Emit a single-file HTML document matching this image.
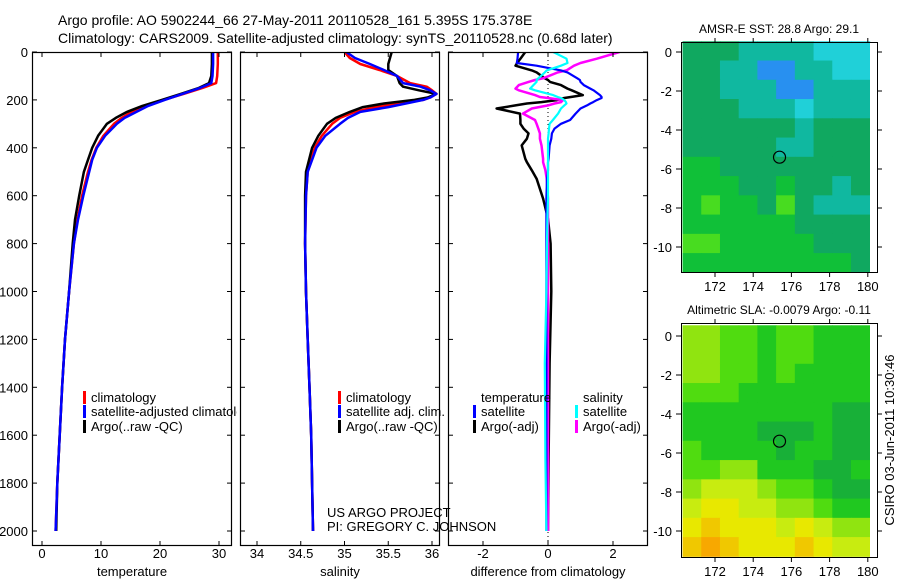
<!DOCTYPE html>
<html><head><meta charset="utf-8"><style>
body{margin:0;background:#fff;}
svg{display:block;font-family:"Liberation Sans",sans-serif;}
text{fill:#000;}
</style></head><body>
<svg id="c" width="900" height="580" viewBox="0 0 900 580">
<text x="58" y="25" font-size="14">Argo profile: AO 5902244_66 27-May-2011 20110528_161 5.395S 175.378E</text>
<text x="58" y="43" font-size="14">Climatology: CARS2009. Satellite-adjusted climatology: synTS_20110528.nc (0.68d later)</text>
</svg>
<script>
// ---- data ----
const depthTicks=[0,200,400,600,800,1000,1200,1400,1600,1800,2000];
const tempTicks=[0,10,20,30];
const salTicks=[34,34.5,35,35.5,36];
const salTickLabels=["34","34.5","35","35.5","36"];
const diffTicks=[-2,0,2];
const tDepth=[0,50,100,130,150,175,200,225,250,275,300,350,400,450,500,600,700,800,1000,1200,1400,1600,1800,2000];
const tClim=[29.8,29.8,29.7,29.5,27.2,24,20.6,17.5,15.2,13.5,12.2,10.4,9.2,8.4,7.8,6.8,6.0,5.4,4.6,3.9,3.4,3.0,2.6,2.3];
const tSat =[29.0,29.0,28.9,28.7,26.8,23.8,20.8,18,16,14,12.7,10.7,9.3,8.5,8.0,7.0,6.1,5.4,4.6,3.9,3.4,3.0,2.6,2.3];
const tArgo=[28.8,28.8,28.7,28.3,26.6,23.5,20.3,17,14.4,12.5,11.0,9.5,8.5,7.8,7.1,6.3,5.6,5.2,4.6,3.9,3.4,3.0,2.6,2.4];
const sDepth=[0,25,50,75,100,130,145,160,175,190,200,215,230,250,275,300,350,400,500,600,800,1000,1200,1400,1600,1800,2000];
const sClim=[35.0,35.06,35.18,35.4,35.6,35.75,35.94,36.0,36.05,35.98,35.9,35.6,35.35,35.12,34.95,34.86,34.74,34.66,34.58,34.56,34.55,34.56,34.58,34.6,34.62,34.63,34.64];
const sSat =[35.02,35.12,35.29,35.45,35.6,35.67,35.87,35.98,36.05,35.98,35.9,35.7,35.5,35.18,35.04,34.95,34.78,34.68,34.58,34.56,34.55,34.56,34.58,34.6,34.62,34.63,34.64];
const sArgo=[35.54,35.52,35.5,35.5,35.6,35.63,35.67,35.85,36.05,35.95,35.8,35.45,35.21,35.06,34.9,34.8,34.7,34.63,34.56,34.55,34.55,34.56,34.58,34.6,34.62,34.63,34.64];
const dDepth=[0,28,46,57,77,85,110,117,125,138,153,160,180,188,192,201,209,215,223,236,257,284,300,320,340,362,390,446,460,494,529,612,696,800,1000,1300,1700,2000];
const dTsat=[-0.92,-0.94,-0.96,-0.35,0.4,0.6,0.9,0.98,1.0,1.1,1.3,1.4,1.6,1.65,1.65,1.5,1.39,1.3,1.2,1.0,0.85,0.68,0.4,0.2,0.12,0.1,0.05,0.02,0.0,0.0,-0.03,-0.05,-0.05,-0.05,-0.05,-0.05,-0.05,-0.05];
const dTargo=[-0.7,-0.85,-0.95,-1.0,-0.5,-0.35,-0.1,0.0,0.06,0.4,0.6,0.73,1.07,0.7,0.5,0.27,-0.2,-0.65,-1.0,-1.58,-0.86,-0.85,-0.85,-0.75,-0.6,-0.65,-0.81,-0.7,-0.65,-0.5,-0.35,-0.15,0.0,0.08,0.1,0.05,0.02,0.0];
const dSsat=[0.16,0.57,0.6,0.4,-0.04,-0.1,-0.3,-0.35,-0.35,-0.45,-0.55,-0.4,0.16,0.3,0.4,0.5,0.55,0.57,0.5,0.4,0.31,0.15,0.05,0.03,0.02,0.0,0.0,0.0,0.0,0.0,0.0,0.0,-0.02,-0.03,-0.05,-0.1,-0.08,-0.05];
const dSargo=[2.2,1.5,1.0,0.8,0.57,0.3,-0.15,-0.4,-0.6,-0.9,-1.0,-0.9,-0.4,-0.25,0.0,0.46,0.4,0.2,0.0,-0.5,-0.77,-0.4,-0.35,-0.3,-0.25,-0.25,-0.2,-0.15,-0.15,-0.08,-0.04,0.0,0.0,0.0,0.0,0.0,0.0,0.0];
const lonTicks=[172,174,176,178,180];
const latTicks=[0,-2,-4,-6,-8,-10];
const sstGrid=[
[4,4,4,3,3,3,3,2,2,2],[4,4,3,3,1,1,3,3,2,2],[4,4,3,3,3,1,1,3,3,3],[4,4,4,3,3,3,2,3,3,3],
[4,4,4,4,4,4,3,4,4,4],[4,4,4,4,4,3,3,4,4,4],[5,5,4,4,4,4,4,4,4,4],[5,5,5,4,4,5,4,4,3,4],
[5,6,5,5,4,6,4,3,3,3],[5,5,5,5,5,5,4,4,4,4],[6,6,5,5,5,5,5,4,4,4],[5,5,5,5,5,5,5,5,5,4]];
const slaGrid=[
[3,3,2,2,1,2,2,1,1,1],[3,3,2,2,1,2,2,1,1,1],[3,3,2,2,1,2,1,1,1,1],[2,2,2,1,1,1,1,1,1,1],
[1,1,1,1,1,1,1,1,0,0],[1,1,1,1,0,0,0,1,0,0],[2,1,1,1,1,0,1,1,0,0],[2,2,3,3,1,1,1,0,0,1],
[3,4,4,4,3,2,2,1,0,0],[4,5,5,4,4,3,3,2,1,1],[5,6,5,5,5,4,5,4,3,3],[6,7,6,5,5,5,6,5,4,4]];
const floatLon=175.378, floatLat=-5.395;

// ---- drawing ----
const svg=document.getElementById('c');
const NS='http://www.w3.org/2000/svg';
function mk(tag,attrs,parent){const e=document.createElementNS(NS,tag);for(const k in attrs)e.setAttribute(k,attrs[k]);(parent||svg).appendChild(e);return e;}
function txt(x,y,s,size,anchor,parent){const t=mk('text',{x:x,y:y,'font-size':size,'text-anchor':anchor||'start'},parent);t.textContent=s;return t;}
const yD=d=>52+d*0.2395;
const PT=52,PB=546;
const panels=[
 {x0:32,x1:232,fx:v=>42+5.9*v,ticks:tempTicks,labels:tempTicks.map(String),xl:'temperature',name:'temperature-panel'},
 {x0:240,x1:440,fx:v=>257+87.5*(v-34),ticks:salTicks,labels:salTickLabels,xl:'salinity',name:'salinity-panel'},
 {x0:448,x1:648,fx:v=>548+32.5*v,ticks:diffTicks,labels:diffTicks.map(String),xl:'difference from climatology',name:'difference-panel'}];
panels.forEach((p,pi)=>{
 const g=mk('g',{});
 
 
 const clip=mk('clipPath',{id:'cp'+pi},g);mk('rect',{x:p.x0,y:PT,width:p.x1-p.x0,height:PB-PT},clip);
 p.g=mk('g',{'clip-path':'url(#cp'+pi+')'},g);
 mk('rect',{x:p.x0+0.5,y:PT+0.5,width:p.x1-p.x0-1,height:PB-PT-1,fill:'none',stroke:'#000','stroke-width':1.2},g);
 depthTicks.forEach(d=>{const y=yD(d);
  mk('line',{x1:p.x0,x2:p.x0+5,y1:y,y2:y,stroke:'#000'},g);mk('line',{x1:p.x1-5,x2:p.x1,y1:y,y2:y,stroke:'#000'},g);
  if(pi===0){const t=txt(28,y+5,String(d),13,'end');}});
 p.ticks.forEach((v,i)=>{const x=p.fx(v);
  mk('line',{x1:x,x2:x,y1:PB,y2:PB-5,stroke:'#000'},g);mk('line',{x1:x,x2:x,y1:PT,y2:PT+5,stroke:'#000'},g);
  const t=txt(x,558,p.labels[i],13,'middle');});
 const xl=txt((p.x0+p.x1)/2,576,p.xl,13,'middle');
 
 
});
function line(p,depths,vals,color,w,name,dash){
 const pts=depths.map((d,i)=>p.fx(vals[i]).toFixed(1)+','+yD(d).toFixed(1)).join(' ');
 const e=mk('polyline',{points:pts,fill:'none',stroke:color,'stroke-width':w,'stroke-linejoin':'round'},p.g);
 if(dash)e.setAttribute('stroke-dasharray',dash);
 
 
}
const zl=mk('line',{x1:panels[2].fx(0),x2:panels[2].fx(0),y1:PT,y2:PB,stroke:'#000','stroke-dasharray':'1,3'},panels[2].g);


line(panels[0],tDepth,tClim,'#f00',2.5,'temp-climatology-line');
line(panels[0],tDepth,tArgo,'#000',2.5,'temp-argo-line');
line(panels[0],tDepth,tSat,'#00f',2.5,'temp-satellite-line');
line(panels[1],sDepth,sClim,'#f00',2.5,'sal-climatology-line');
line(panels[1],sDepth,sArgo,'#000',2.5,'sal-argo-line');
line(panels[1],sDepth,sSat,'#00f',2.5,'sal-satellite-line');
line(panels[2],dDepth,dTargo,'#000',2.5,'diff-temp-argo-line');
line(panels[2],dDepth,dSargo,'#f0f',2.5,'diff-sal-argo-line');
line(panels[2],dDepth,dTsat,'#00f',2.2,'diff-temp-satellite-line');
line(panels[2],dDepth,dSsat,'#0ff',2.2,'diff-sal-satellite-line');
// legends
const lclip=mk('clipPath',{id:'legclip'});mk('rect',{x:0,y:0,width:237,height:580},lclip);
function leg(x,y,color,label,parent){const g=mk('g',{},parent);
 
 
 if(color)mk('rect',{x:x,y:y-11,width:3,height:13,fill:color},g);
 txt(x+8,y,label,13,'start',g);}
const lg1=mk('g',{'clip-path':'url(#legclip)'});
leg(83,402,'#f00','climatology',lg1);leg(83,416,'#00f','satellite-adjusted climatology',lg1);leg(83,431,'#000','Argo(..raw -QC)',lg1);
leg(338,402,'#f00','climatology');leg(338,416,'#00f','satellite adj. clim.');leg(338,431,'#000','Argo(..raw -QC)');
leg(473,402,null,'temperature');leg(473,416,'#00f','satellite');leg(473,431,'#000','Argo(-adj)');
leg(575,402,null,'salinity');leg(575,416,'#0ff','satellite');leg(575,431,'#f0f','Argo(-adj)');
const c1=txt(327,517,'US ARGO PROJECT',13);
const c2=txt(327,531,'PI: GREGORY C. JOHNSON',13);
// maps
const sstCols=['#1050e0','#2890f0','#20d0d8','#10b8a0','#10a860','#10c038','#48dc20'];
const slaCols=['#18b038','#20c820','#50dc10','#90e410','#c8ec10','#e8e800','#f0c800','#f8a800'];
function map(top,bottom,y0,grid,cols,title,name){
 const g=mk('g',{});
 
 
 const fx=lon=>715+(lon-172)*19.1, fy=lat=>y0-lat*19.5;
 const lonW=(180.1-170.3)/10, latH=(0.55-(-11.3))/12;
 grid.forEach((row,r)=>row.forEach((v,c)=>{
  const x0=fx(170.3+c*lonW),x1=fx(170.3+(c+1)*lonW),ya=fy(0.55-r*latH),yb=fy(0.55-(r+1)*latH);
  const cell=mk('rect',{x:x0,y:ya,width:x1-x0+0.5,height:yb-ya+0.5,fill:cols[v]},g);
  
  
 }));
 mk('rect',{x:681.5,y:top+0.5,width:196,height:bottom-top,fill:'none',stroke:'#000'},g);
 mk('rect',{x:870,y:top+1,width:7,height:bottom-top-1,fill:'#fff'},g);
 lonTicks.forEach(l=>{const x=fx(l);mk('line',{x1:x,x2:x,y1:bottom,y2:bottom+5,stroke:'#000'},g);mk('line',{x1:x,x2:x,y1:top,y2:top-4,stroke:'#000'},g);
  txt(x,bottom+19,String(l),13,'middle',g);});
 latTicks.forEach(l=>{const y=fy(l);mk('line',{x1:681,x2:676,y1:y,y2:y,stroke:'#000'},g);mk('line',{x1:877,x2:882,y1:y,y2:y,stroke:'#000'},g);
  txt(672,y+5,String(l),13,'end',g);});
 const ci=mk('circle',{cx:fx(floatLon),cy:fy(floatLat),r:6,fill:'none',stroke:'#000','stroke-width':1.2},g);
 
 
 const t=txt(779,top-9,title,12,'middle',g);
 
 
}
map(42,272,52,sstGrid,sstCols,'AMSR-E SST: 28.8 Argo: 29.1','sst-map');
map(323,557,336,slaGrid,slaCols,'Altimetric SLA: -0.0079 Argo: -0.11','sla-map');
const st=txt(0,0,'CSIRO 03-Jun-2011 10:30:46',13,'middle');
st.setAttribute('transform','translate(894,440) rotate(-90)');


</script>
</body></html>
